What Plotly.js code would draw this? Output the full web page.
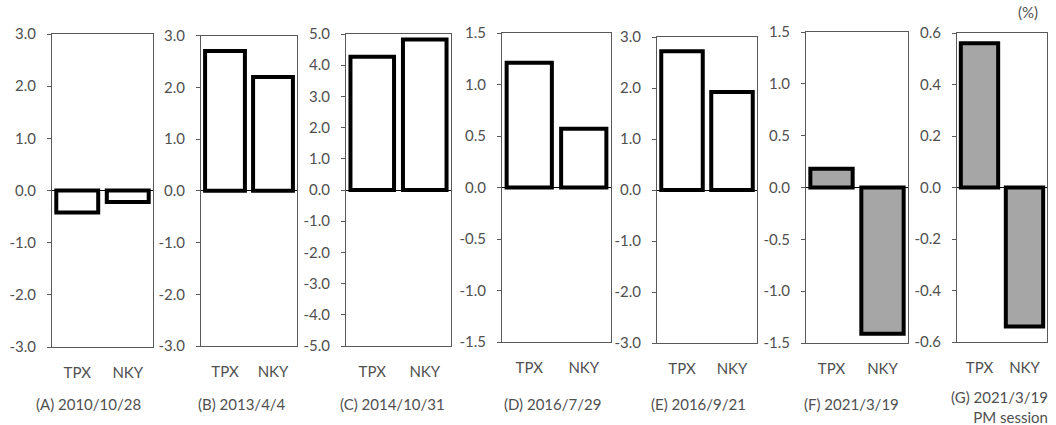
<!DOCTYPE html>
<html>
<head>
<meta charset="utf-8">
<script src="https://cdn.plot.ly/plotly-3.0.1.min.js"></script>
<style>html,body{margin:0;padding:0;background:#fff;}#chart{width:1056px;height:425px;}</style>
</head>
<body>
<div id="chart"></div>
<script>
// ---- data ----
const categories = ['TPX', 'NKY'];
const valuesA = [-0.42, -0.22];
const valuesB = [2.70, 2.20];
const valuesC = [4.27, 4.82];
const valuesD = [1.21, 0.57];
const valuesE = [2.72, 1.92];
const valuesF = [0.18, -1.41];
const valuesG = [0.56, -0.54];
const ticksA = [-3, -2, -1, 0, 1, 2, 3];
const ticksB = [-3, -2, -1, 0, 1, 2, 3];
const ticksC = [-5, -4, -3, -2, -1, 0, 1, 2, 3, 4, 5];
const ticksD = [-1.5, -1.0, -0.5, 0, 0.5, 1.0, 1.5];
const ticksE = [-3, -2, -1, 0, 1, 2, 3];
const ticksF = [-1.5, -1.0, -0.5, 0, 0.5, 1.0, 1.5];
const ticksG = [-0.6, -0.4, -0.2, 0, 0.2, 0.4, 0.6];
const panelTitles = ['(A) 2010/10/28', '(B) 2013/4/4', '(C) 2014/10/31', '(D) 2016/7/29',
                     '(E) 2016/9/21', '(F) 2021/3/19', '(G) 2021/3/19<br>PM session'];
const unitLabel = '(%)';

// ---- layout helpers (pixel boxes) ----
const W = 1056, H = 425;
const panels = [
  {v: valuesA, ticks: ticksA, box: [52, 153, 34, 347],    fill: '#ffffff', tx: 88},
  {v: valuesB, ticks: ticksB, box: [201, 297, 35.5, 346], fill: '#ffffff', tx: 242},
  {v: valuesC, ticks: ticksC, box: [346, 451, 34, 346],   fill: '#ffffff', tx: 392},
  {v: valuesD, ticks: ticksD, box: [502, 611, 33, 342],   fill: '#ffffff', tx: 552},
  {v: valuesE, ticks: ticksE, box: [657, 757, 37, 343],   fill: '#ffffff', tx: 698},
  {v: valuesF, ticks: ticksF, box: [806, 908, 32, 343],   fill: '#a6a6a6', tx: 851},
  {v: valuesG, ticks: ticksG, box: [957, 1047, 33, 342],  fill: '#a6a6a6', tx: 1050}
];

const font = {family: 'Lato, "Open Sans", sans-serif', size: 15, color: '#505050'};
const traces = [];
const layout = {
  width: W, height: H,
  margin: {l: 0, r: 0, t: 0, b: 0},
  paper_bgcolor: '#ffffff', plot_bgcolor: '#ffffff',
  showlegend: false,
  bargap: 0.17,
  font: font,
  annotations: []
};

panels.forEach((p, i) => {
  const n = i === 0 ? '' : String(i + 1);
  traces.push({
    type: 'bar',
    x: categories,
    y: p.v,
    xaxis: 'x' + n,
    yaxis: 'y' + n,
    marker: {color: p.fill, line: {color: '#000000', width: 4}},
    hoverinfo: 'x+y'
  });
  const [x0, x1, y0, y1] = p.box;
  const t = p.ticks;
  layout['xaxis' + n] = {
    domain: [x0 / W, x1 / W],
    anchor: 'y' + n,
    showline: true, mirror: true, linecolor: '#595959', linewidth: 1,
    ticks: '', showgrid: false, zeroline: false,
    tickfont: font, ticklabelstandoff: 12,
    fixedrange: true
  };
  layout['yaxis' + n] = {
    domain: [1 - y1 / H, 1 - y0 / H],
    anchor: 'x' + n,
    range: [t[0], t[t.length - 1]],
    tickmode: 'array',
    tickvals: t,
    ticktext: t.map(v => v.toFixed(1)),
    showline: true, mirror: true, linecolor: '#595959', linewidth: 1,
    ticks: 'outside', ticklen: 4, tickcolor: '#595959', tickwidth: 1,
    showgrid: false,
    zeroline: true, zerolinecolor: '#000000', zerolinewidth: 1,
    tickfont: font, ticklabelstandoff: 8,
    fixedrange: true
  };
  const last = i === panels.length - 1;
  layout.annotations.push({
    xref: 'paper', yref: 'paper',
    x: p.tx / W, y: 1 - (last ? 396 : 404) / H,
    xanchor: last ? 'right' : 'center', yanchor: last ? 'top' : 'middle',
    yshift: last ? 10 : 0,
    align: last ? 'right' : 'center',
    text: panelTitles[i],
    showarrow: false,
    font: font
  });
});

layout.annotations.push({
  xref: 'paper', yref: 'paper',
  x: 1028 / W, y: 1 - 12 / H,
  xanchor: 'center', yanchor: 'middle',
  text: unitLabel, showarrow: false, font: font
});

Plotly.newPlot('chart', traces, layout, {displayModeBar: false, staticPlot: false});
</script>
</body>
</html>
